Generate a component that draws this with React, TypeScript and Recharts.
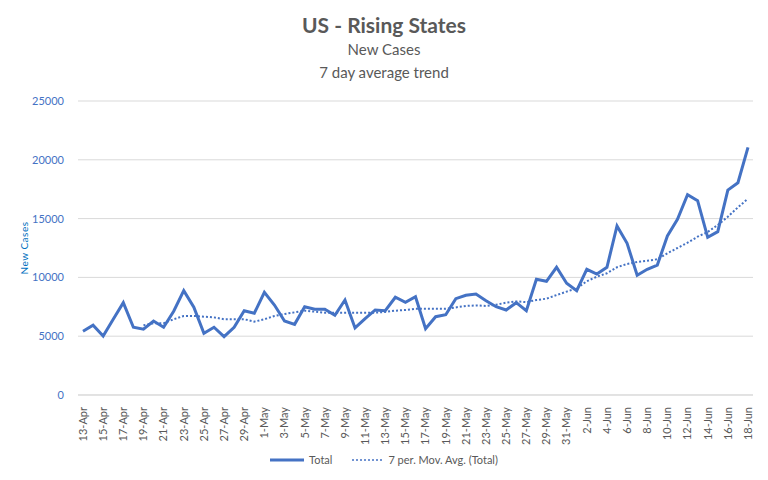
import { LineChart, Line, XAxis, YAxis, CartesianGrid } from 'recharts';

const dates = [
  '13-Apr', '14-Apr', '15-Apr', '16-Apr', '17-Apr', '18-Apr', '19-Apr', '20-Apr', '21-Apr', '22-Apr',
  '23-Apr', '24-Apr', '25-Apr', '26-Apr', '27-Apr', '28-Apr', '29-Apr', '30-Apr',
  '1-May', '2-May', '3-May', '4-May', '5-May', '6-May', '7-May', '8-May', '9-May', '10-May',
  '11-May', '12-May', '13-May', '14-May', '15-May', '16-May', '17-May', '18-May', '19-May', '20-May',
  '21-May', '22-May', '23-May', '24-May', '25-May', '26-May', '27-May', '28-May', '29-May', '30-May', '31-May',
  '1-Jun', '2-Jun', '3-Jun', '4-Jun', '5-Jun', '6-Jun', '7-Jun', '8-Jun', '9-Jun', '10-Jun',
  '11-Jun', '12-Jun', '13-Jun', '14-Jun', '15-Jun', '16-Jun', '17-Jun', '18-Jun',
];

const total = [
  5420, 5930, 5020, 6440, 7850, 5760, 5590, 6290, 5760, 7120,
  8870, 7460, 5250, 5760, 4960, 5760, 7170, 6950,
  8730, 7650, 6290, 6010, 7510, 7290, 7290, 6780, 8080, 5700,
  6490, 7230, 7170, 8310, 7880, 8360, 5640, 6660, 6830, 8190,
  8480, 8590, 8020, 7510, 7230, 7850, 7170, 9840, 9670, 10860, 9500,
  8870, 10690, 10290, 10860, 14370, 12900, 10180, 10690, 11050, 13520,
  14940, 17030, 16520, 13410, 13890, 17430, 18050, 21060,
];

const movAvg = [
  null, null, null, null, null, null, 5930, 6100, 6100, 6440,
  6720, 6720, 6660, 6600, 6440, 6440, 6440, 6240,
  6440, 6720, 6890, 7030, 7170, 7090, 7000, 7000, 7000, 7000,
  7000, 7000, 7060, 7170, 7230, 7340, 7340, 7340, 7340, 7450,
  7570, 7620, 7570, 7680, 7850, 7960, 7900, 8080, 8190, 8500, 8790,
  9070, 9670, 10060, 10350, 10860, 11140, 11310, 11420, 11540, 12050,
  12500, 12950, 13460, 13860, 14460, 15160, 15960, 16690,
];

const yTicks = [0, 5000, 10000, 15000, 20000, 25000];

const data = dates.map((d, i) => ({ date: d, total: total[i], avg: movAvg[i] }));

const FONT = 'Lato, "Open Sans", sans-serif';
const BLUE = '#4472C4';
const GREY = '#595959';

const XTick = (props: any) => {
  const { x, y, payload } = props;
  return (
    <g transform={`translate(${x},${y})`}>
      <text
        transform="rotate(-90)"
        x={-4}
        y={0}
        dy="0.35em"
        textAnchor="end"
        fill={GREY}
        fontSize={11}
        fontFamily={FONT}
      >
        {payload.value}
      </text>
    </g>
  );
};

export default function App() {
  return (
    <div style={{ position: 'absolute', left: 0, top: 0, width: 768, height: 480, background: '#fff', fontFamily: FONT }}>
      <div style={{ position: 'absolute', top: 12, width: 768, textAlign: 'center', color: GREY, fontSize: 21, fontWeight: 700 }}>
        US - Rising States
      </div>
      <div style={{ position: 'absolute', top: 40, width: 768, textAlign: 'center', color: GREY, fontSize: 15 }}>
        New Cases
      </div>
      <div style={{ position: 'absolute', top: 63, width: 768, textAlign: 'center', color: GREY, fontSize: 15 }}>
        7 day average trend
      </div>
      <LineChart width={768} height={480} data={data} margin={{ top: 101, right: 15, left: 18, bottom: 25 }}>
        <CartesianGrid vertical={false} stroke="#d9d9d9" />
        <XAxis
          dataKey="date"
          interval={1}
          tick={<XTick />}
          tickLine={false}
          axisLine={{ stroke: '#d9d9d9' }}
          padding={{ left: 5, right: 5 }}
          height={60}
        />
        <YAxis
          domain={[0, 25000]}
          ticks={yTicks}
          width={60}
          axisLine={false}
          tickLine={false}
          tick={{ fill: BLUE, fontSize: 11, fontFamily: FONT }}
          tickMargin={8}
          label={{
            value: 'New Cases',
            angle: -90,
            position: 'insideLeft',
            offset: 0,
            dx: 6,
            style: { fill: '#0070C0', fontSize: 10, fontFamily: FONT, textAnchor: 'middle', letterSpacing: 0.5 },
          }}
        />
        <Line
          dataKey="total"
          stroke={BLUE}
          strokeWidth={3}
          dot={false}
          isAnimationActive={false}
        />
        <Line
          dataKey="avg"
          stroke={BLUE}
          strokeWidth={2}
          strokeDasharray="2 2"
          dot={false}
          connectNulls={false}
          isAnimationActive={false}
        />
      </LineChart>
      <div style={{ position: 'absolute', top: 453, left: 0, width: 768, display: 'flex', justifyContent: 'center', alignItems: 'center', fontSize: 11, color: GREY }}>
        <svg width={34} height={6} style={{ marginRight: 5 }}>
          <line x1={0} y1={3} x2={34} y2={3} stroke={BLUE} strokeWidth={3} />
        </svg>
        <span style={{ marginRight: 20 }}>Total</span>
        <svg width={32} height={6} style={{ marginRight: 4 }}>
          <line x1={0} y1={3} x2={32} y2={3} stroke={BLUE} strokeWidth={1.5} strokeDasharray="2 2" />
        </svg>
        <span>7 per. Mov. Avg. (Total)</span>
      </div>
    </div>
  );
}
